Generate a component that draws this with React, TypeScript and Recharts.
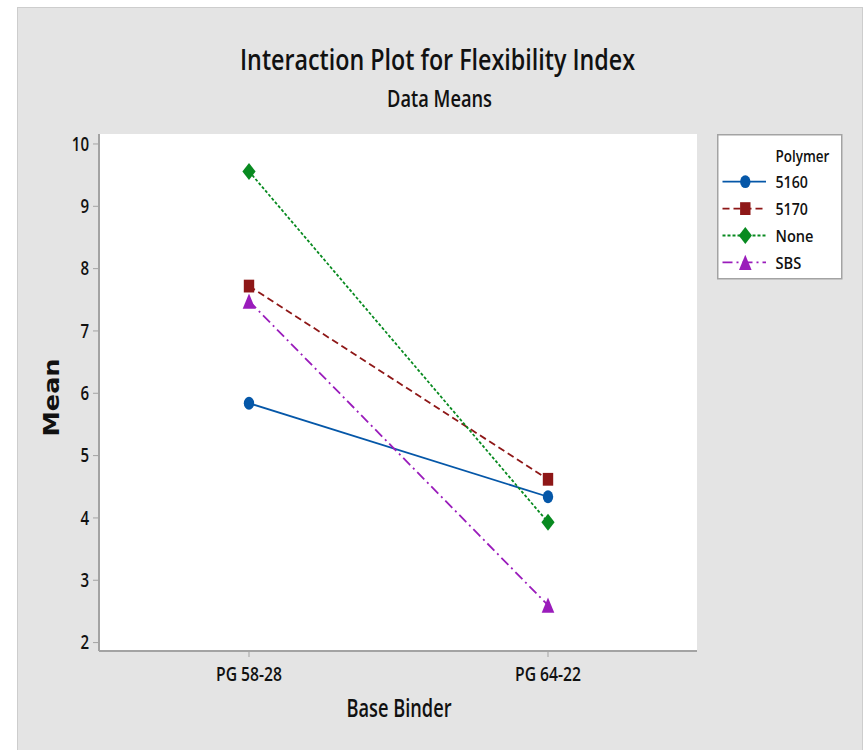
import React from "react";
import { LineChart, Line, XAxis, YAxis, CartesianGrid, Legend } from "recharts";

// ---- data ----
const binders = ["PG 58-28", "PG 64-22"];
const mean5160 = [5.84, 4.34];
const mean5170 = [7.72, 4.62];
const meanNone = [9.56, 3.93];
const meanSBS = [7.48, 2.6];
const yTicks = [2, 3, 4, 5, 6, 7, 8, 9, 10];
const yDomain = [1.865, 10.16];

const FONT = "'Open Sans', 'DejaVu Sans Condensed', sans-serif";
const WEIGHT = 600;
const FRAME = "#a3a3a3";

type Shape = "circle" | "square" | "diamond" | "triangle";
const seriesList: { key: string; name: string; values: number[]; color: string; dash?: string; shape: Shape }[] = [
  { key: "s5160", name: "5160", values: mean5160, color: "#0557a8", dash: undefined, shape: "circle" },
  { key: "s5170", name: "5170", values: mean5170, color: "#8e1717", dash: "7 4", shape: "square" },
  { key: "sNone", name: "None", values: meanNone, color: "#088a20", dash: "3 2", shape: "diamond" },
  { key: "sSBS", name: "SBS", values: meanSBS, color: "#9a1cbb", dash: "10 4 2 4", shape: "triangle" },
];

const data = binders.map((b, i) => {
  const row: any = { binder: b };
  seriesList.forEach((s) => {
    row[s.key] = s.values[i];
  });
  return row;
});

// condensed-looking text: squeeze glyphs to a given width per character
const CText = ({ perChar, children, ...rest }: any) => {
  const str = String(children);
  return (
    <text
      fontFamily={FONT}
      fontWeight={WEIGHT}
      fill="#111"
      textLength={perChar * str.length}
      lengthAdjust="spacingAndGlyphs"
      {...rest}
    >
      {str}
    </text>
  );
};

function Marker({ shape, cx, cy, color }: { shape: Shape; cx: number; cy: number; color: string }) {
  if (cx == null || cy == null) return null;
  switch (shape) {
    case "circle":
      return <ellipse cx={cx} cy={cy} rx={5.2} ry={6.4} fill={color} />;
    case "square":
      return <rect x={cx - 5.2} y={cy - 6.4} width={10.4} height={12.8} fill={color} />;
    case "diamond":
      return (
        <polygon
          points={`${cx},${cy - 8.5} ${cx + 6.6},${cy} ${cx},${cy + 8.5} ${cx - 6.6},${cy}`}
          fill={color}
        />
      );
    default:
      return (
        <polygon
          points={`${cx},${cy - 7.6} ${cx + 6.3},${cy + 7.6} ${cx - 6.3},${cy + 7.6}`}
          fill={color}
        />
      );
  }
}

const XTick = (p: any) => (
  <CText x={p.x} y={p.y} dy="0.71em" textAnchor="middle" fontSize={19} perChar={8.25}>
    {p.payload.value}
  </CText>
);

const YTick = (p: any) => (
  <CText x={p.x} y={p.y} dy="0.36em" textAnchor="end" fontSize={19} perChar={8.6}>
    {p.payload.value}
  </CText>
);

const renderLegend = (props: any) => {
  const payload: any[] = props.payload || [];
  const items = seriesList
    .map((s) => ({ s, p: payload.find((p) => p.dataKey === s.key) }))
    .filter((x) => x.p);
  return (
    <svg width={126} height={146} style={{ display: "block" }}>
      <rect x={0.75} y={0.75} width={124} height={144} fill="#ffffff" stroke={FRAME} strokeWidth={1.5} />
      <CText x={58.5} y={27.7} fontSize={17} perChar={7.7}>
        Polymer
      </CText>
      {items.map(({ s, p }, i) => {
        const cy = 47.7 + i * 26.9;
        const label = String(p.value);
        return (
          <g key={s.key}>
            <line x1={5.5} x2={49} y1={cy} y2={cy} stroke={p.color} strokeWidth={1.8} strokeDasharray={s.dash} />
            <Marker shape={s.shape} cx={28.3} cy={cy} color={p.color} />
            <CText x={58.5} y={cy + 6.2} fontSize={17} perChar={label === "None" ? 9.5 : label === "SBS" ? 8.6 : 8.1}>
              {label}
            </CText>
          </g>
        );
      })}
    </svg>
  );
};

export default function App() {
  return (
    <div style={{ position: "absolute", left: 0, top: 0, width: 866, height: 750, background: "#ffffff" }}>
      <div
        style={{
          position: "absolute",
          left: 17,
          top: 7,
          width: 844,
          height: 743,
          background: "#e4e4e4",
          borderLeft: "1.5px solid #cdcdcd",
          borderTop: "1.5px solid #cdcdcd",
          borderRight: "1.5px solid #cdcdcd",
        }}
      />
      <svg width={866} height={120} style={{ position: "absolute", left: 0, top: 0 }}>
        <text
          x={437.5}
          y={70}
          textAnchor="middle"
          fontFamily={FONT}
          fontWeight={WEIGHT}
          fontSize={28}
          fill="#111"
          textLength={395}
          lengthAdjust="spacingAndGlyphs"
        >
          Interaction Plot for Flexibility Index
        </text>
        <text
          x={439.5}
          y={106.5}
          textAnchor="middle"
          fontFamily={FONT}
          fontWeight={WEIGHT}
          fontSize={24}
          fill="#111"
          textLength={105}
          lengthAdjust="spacingAndGlyphs"
        >
          Data Means
        </text>
      </svg>
      <div style={{ position: "absolute", left: 0, top: 0 }}>
        <LineChart width={866} height={750} data={data} margin={{ top: 134, right: 169, bottom: 0, left: 0 }}>
          <CartesianGrid horizontal={false} vertical={false} fill="#ffffff" />
          <XAxis
            dataKey="binder"
            height={99}
            padding={{ left: 150, right: 149 }}
            tickSize={6}
            tickMargin={11}
            axisLine={{ stroke: FRAME, strokeWidth: 2 }}
            tickLine={{ stroke: FRAME }}
            tick={<XTick />}
            label={{
              content: (lp: any) => {
                const vb = lp.viewBox || {};
                return (
                  <text
                    x={vb.x + vb.width / 2 + 1}
                    y={717}
                    textAnchor="middle"
                    fontFamily={FONT}
                    fontWeight={WEIGHT}
                    fontSize={25}
                    fill="#111"
                    textLength={105}
                    lengthAdjust="spacingAndGlyphs"
                  >
                    Base Binder
                  </text>
                );
              },
            }}
          />
          <XAxis xAxisId="top" orientation="top" height={0} tick={false} tickLine={false} axisLine={{ stroke: FRAME, strokeWidth: 2 }} />
          <YAxis
            type="number"
            domain={yDomain}
            ticks={yTicks}
            width={99}
            allowDataOverflow
            tickSize={6}
            tickMargin={4}
            axisLine={{ stroke: FRAME, strokeWidth: 2 }}
            tickLine={{ stroke: FRAME }}
            tick={<YTick />}
            label={{
              content: (lp: any) => {
                const vb = lp.viewBox || {};
                const cx = 51.7;
                const cy = vb.y + vb.height / 2 + 5;
                return (
                  <text
                    x={cx}
                    y={cy}
                    transform={`rotate(-90 ${cx} ${cy})`}
                    textAnchor="middle"
                    dominantBaseline="central"
                    fontFamily="'DejaVu Sans', sans-serif"
                    fontWeight="bold"
                    fontSize={21}
                    fill="#111"
                    textLength={78}
                    lengthAdjust="spacingAndGlyphs"
                  >
                    Mean
                  </text>
                );
              },
            }}
          />
          <YAxis yAxisId="right" orientation="right" width={0} tick={false} tickLine={false} axisLine={{ stroke: FRAME, strokeWidth: 2 }} />
          {seriesList.map((s) => (
            <Line
              key={s.key}
              dataKey={s.key}
              name={s.name}
              type="linear"
              stroke={s.color}
              strokeWidth={1.8}
              strokeDasharray={s.dash}
              isAnimationActive={false}
              dot={(dp: any) => (
                <Marker key={`${s.key}-${dp.index}`} shape={s.shape} cx={dp.cx} cy={dp.cy} color={s.color} />
              )}
              activeDot={false}
            />
          ))}
          <Legend
            layout="vertical"
            align="center"
            verticalAlign="middle"
            content={renderLegend}
            wrapperStyle={{ position: "absolute", left: 717, top: 133.5, width: 126, height: 146 }}
          />
        </LineChart>
      </div>
    </div>
  );
}
